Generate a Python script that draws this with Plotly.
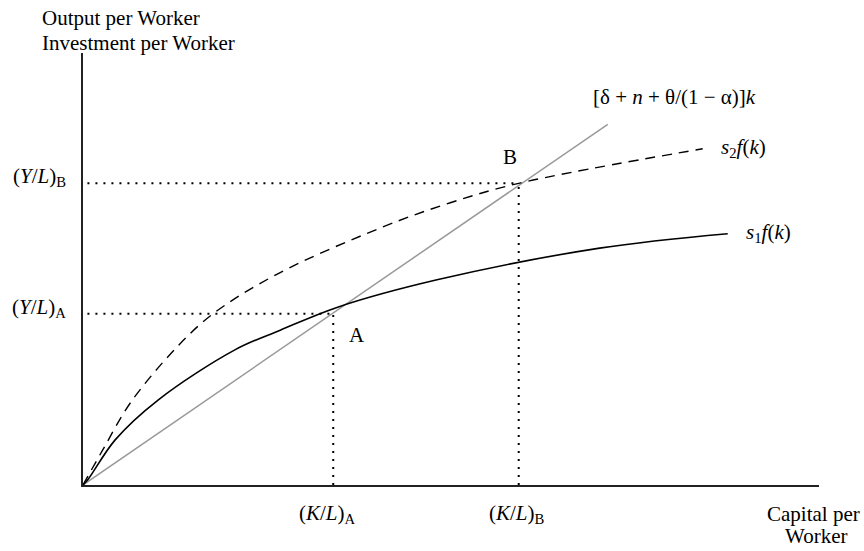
import plotly.graph_objects as go

# ---- data (x = capital per worker, y = output/investment per worker)
k_s1 = [0, 0.07, 0.44, 1.02, 2.07, 2.68, 3.46, 4.81, 7.02, 8.76]
y_s1 = [0, 0.08, 0.63, 1.18, 1.88, 2.15, 2.47, 2.85, 3.29, 3.49]

k_s2 = [0, 0.27, 0.65, 1.28, 1.77, 2.64, 4.04, 4.99, 5.92, 8.42]
y_s2 = [0, 0.49, 1.15, 1.92, 2.38, 2.93, 3.57, 3.92, 4.19, 4.67]

k_line = [0, 7.13]
y_line = [0, 5.01]

KL_A, YL_A = 3.40, 2.38
KL_B, YL_B = 5.92, 4.19

X_MAX, Y_MAX = 10, 6

FONT = "Liberation Serif, Times New Roman, serif"
FS = 21

fig = go.Figure()

# break-even investment line
fig.add_trace(go.Scatter(x=k_line, y=y_line, mode="lines",
                         line=dict(color="#999999", width=1.5), hoverinfo="skip"))
# s1 f(k)
fig.add_trace(go.Scatter(x=k_s1, y=y_s1, mode="lines", line_shape="spline",
                         line=dict(color="black", width=1.6), hoverinfo="skip"))
# s2 f(k)
fig.add_trace(go.Scatter(x=k_s2, y=y_s2, mode="lines", line_shape="spline",
                         line=dict(color="black", width=1.4, dash="10px,7px"), hoverinfo="skip"))

# dotted guides
dot = dict(color="black", width=2, dash="2px,6px")
for kk, yy in [(KL_A, YL_A), (KL_B, YL_B)]:
    fig.add_trace(go.Scatter(x=[0.06, kk], y=[yy, yy], mode="lines", line=dot, hoverinfo="skip"))
    fig.add_trace(go.Scatter(x=[kk, kk], y=[0, yy], mode="lines", line=dot, hoverinfo="skip"))

ann = []
def txt(x, y, t, xanchor="center", xshift=0, size=FS):
    # x, y given in data units; placed in paper coordinates so text outside the axes still shows
    ann.append(dict(x=x / X_MAX, y=y / Y_MAX, xref="paper", yref="paper", text=t, showarrow=False,
                    xanchor=xanchor, yanchor="middle", xshift=xshift, borderpad=0,
                    font=dict(family=FONT, size=size, color="black")))

txt(-0.571, 6.486, "Output per Worker", xanchor="left")
txt(-0.571, 6.139, "Investment per Worker", xanchor="left")
txt(10.57, -0.40, "Capital per", xanchor="right")
txt(9.959, -0.71, "Worker")
txt(KL_A - 0.08, -0.40, "(<i>K</i>/<i>L</i>)<sub>A</sub>")
txt(KL_B - 0.03, -0.40, "(<i>K</i>/<i>L</i>)<sub>B</sub>")
txt(0, 4.278, "(<i>Y</i>/<i>L</i>)<sub>B</sub>", xanchor="right", xshift=-16)
txt(0, 2.458, "(<i>Y</i>/<i>L</i>)<sub>A</sub>", xanchor="right", xshift=-16)
txt(5.802, 4.556, "B")
txt(3.723, 2.083, "A")
txt(8.655, 4.681, "<i>s</i><sub>2</sub><i>f</i>(<i>k</i>)", xanchor="left")
txt(8.995, 3.50, "<i>s</i><sub>1</sub><i>f</i>(<i>k</i>)", xanchor="left")
txt(6.916, 5.389, "[δ + <i>n</i> + θ/(1 − α)]<i>k</i>", xanchor="left")

fig.update_layout(
    width=864, height=551,
    margin=dict(l=83, r=45, t=53, b=66),
    paper_bgcolor="white", plot_bgcolor="white",
    showlegend=False,
    hovermode=False,
    annotations=ann,
    font=dict(family=FONT, size=FS, color="black"),
    xaxis=dict(range=[0, X_MAX], showgrid=False, zeroline=False, showticklabels=False,
               ticks="", showline=True, linecolor="#222222", linewidth=2),
    yaxis=dict(range=[0, Y_MAX], showgrid=False, zeroline=False, showticklabels=False,
               ticks="", showline=True, linecolor="#222222", linewidth=2),
)

fig.write_html("out.html",
               config={"displayModeBar": False},
               post_script="document.body.style.margin='0';document.body.style.overflow='hidden';")
